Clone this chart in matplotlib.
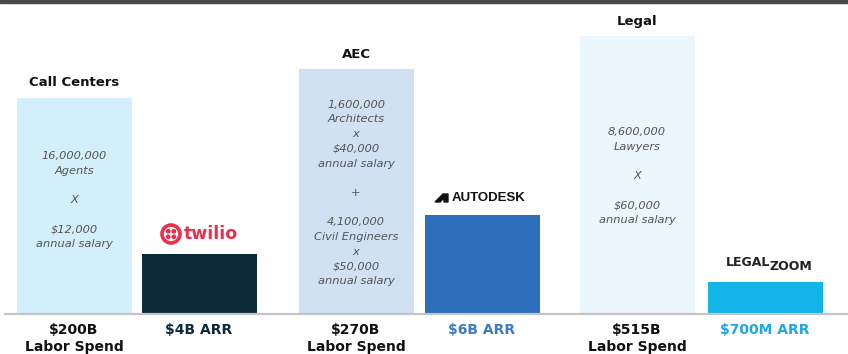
import matplotlib
matplotlib.use("Agg")
import matplotlib.pyplot as plt
from matplotlib.patches import Circle, Polygon, Rectangle

# bar heights as drawn (relative display units), one pair per vertical
categories = ["Call Centers", "AEC", "Legal"]
spend_labels = ["$200B", "$270B", "$515B"]
arr_labels = ["$4B ARR", "$6B ARR", "$700M ARR"]
spend_heights = [216, 245, 278]
arr_heights = [60, 99, 32]
breakdowns = [
    ["16,000,000", "Agents", "", "X", "", "$12,000", "annual salary"],
    ["1,600,000", "Architects", "x", "$40,000", "annual salary", "", "+", "",
     "4,100,000", "Civil Engineers", "x", "$50,000", "annual salary"],
    ["8,600,000", "Lawyers", "", "X", "", "$60,000", "annual salary"],
]

spend_colors = ["#d4effc", "#d0e1f3", "#ebf6fd"]
arr_colors = ["#0c2a3a", "#2c6eb9", "#13b5e8"]
arr_text_colors = ["#0c2a3a", "#3b7cc4", "#1ea8ea"]

BOLD = "DejaVu Sans"
ITAL = "DejaVu Sans"

fig = plt.figure(figsize=(8.48, 3.54), dpi=100)
ax = fig.add_axes([0, 0, 1, 1])
ax.set_xlim(0, 848)
ax.set_ylim(-40, 314)
ax.axis("off")

spend_x = [74, 356, 637]
arr_x = [199, 482, 765]
w = 115

ax.bar(spend_x, spend_heights, width=w, color=spend_colors, zorder=1)
ax.bar(arr_x, arr_heights, width=w, color=arr_colors, zorder=1)

# baseline and top band
ax.plot([5, 848], [0, 0], color="#c4c4c4", lw=1.6, zorder=2)
ax.add_patch(Rectangle((0, 311), 848, 4, color="#4a4a4a", clip_on=False, zorder=3))

for i in range(3):
    sx, ax_ = spend_x[i], arr_x[i]
    ax.text(sx, spend_heights[i] + 15, categories[i], ha="center", va="center",
            fontsize=9.5, fontweight="bold", family=BOLD, color="#111111")
    ax.text(sx, -16, spend_labels[i], ha="center", va="center",
            fontsize=10, fontweight="bold", family=BOLD, color="#111111")
    ax.text(sx, -39.5, "Labor Spend", ha="center", va="bottom",
            fontsize=10, fontweight="bold", family=BOLD, color="#111111")
    ax.text(ax_, -16, arr_labels[i], ha="center", va="center",
            fontsize=10, fontweight="bold", family=BOLD, color=arr_text_colors[i])

    lines = breakdowns[i]
    step = 14.7
    center = [114, 121, 138][i]
    top = center + step * (len(lines) - 1) / 2
    for k, line in enumerate(lines):
        if line:
            ax.text(sx, top - k * step, line, ha="center", va="center",
                    fontsize=8.2, style="italic", family=ITAL, color="#555555")

# twilio logo
ty = arr_heights[0] + 20
cx = 171
ax.add_patch(Circle((cx, ty), 9, fill=False, ec="#e8304a", lw=2.6, zorder=3))
for dx in (-2.8, 2.8):
    for dy in (-2.8, 2.8):
        ax.add_patch(Circle((cx + dx, ty + dy), 1.7, color="#e8304a", zorder=3))
ax.text(184, ty, "twilio", ha="left", va="center", fontsize=12.5,
        fontweight="bold", family=BOLD, color="#e8304a")

# autodesk logo
ay = arr_heights[1] + 17
ax.add_patch(Polygon([(435, ay - 4), (443, ay + 4), (448, ay + 4), (448, ay - 4),
                      (444, ay - 4), (444, ay), (440, ay - 4)],
                     closed=True, color="#111111", zorder=3))
ax.text(452, ay, "AUTODESK", ha="left", va="center", fontsize=9.5,
        fontweight="bold", family="Liberation Sans", color="#111111")

# legalzoom logo
ly = arr_heights[2] + 19
ax.text(770, ly, "LEGAL", ha="right", va="center", fontsize=9,
        fontweight="bold", family=BOLD, color="#222222")
ax.text(770, ly - 3, "ZOOM", ha="left", va="center", fontsize=9,
        fontweight="bold", family=BOLD, color="#222222")

fig.savefig("out.png", dpi=100)
